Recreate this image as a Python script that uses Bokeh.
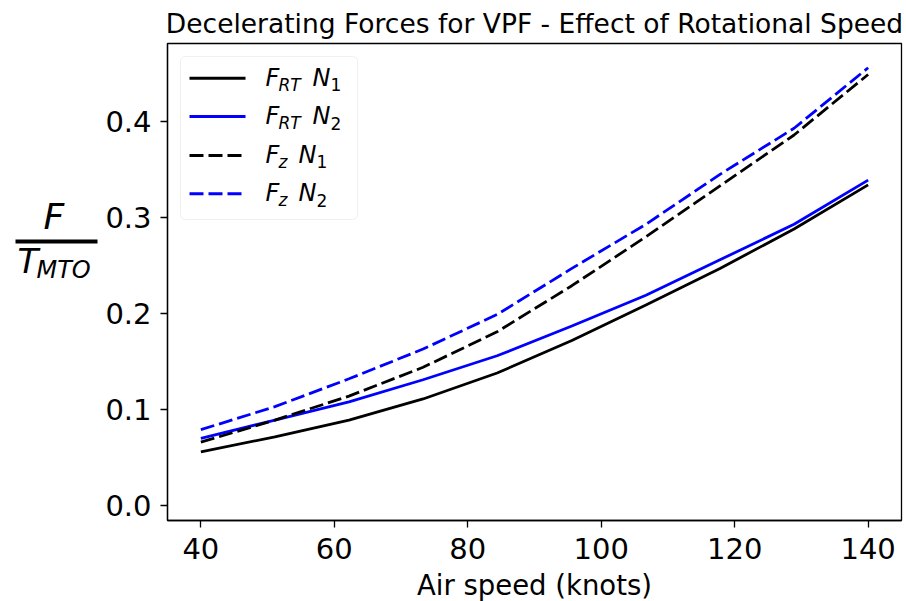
from bokeh.plotting import figure
from bokeh.layouts import row
from bokeh.models import Range1d, FixedTicker, Label, Arrow, BoxAnnotation, PrintfTickFormatter
from bokeh.embed import file_html
from bokeh.resources import INLINE

# ---- data ----
airspeed = [40, 51.1, 62.2, 73.3, 84.4, 95.6, 106.7, 117.8, 128.9, 140]
frt_n1 = [0.056, 0.0715, 0.089, 0.111, 0.138, 0.172, 0.209, 0.247, 0.288, 0.334]
frt_n2 = [0.070, 0.089, 0.108, 0.131, 0.156, 0.187, 0.219, 0.256, 0.293, 0.339]
fz_n1 = [0.066, 0.089, 0.114, 0.144, 0.181, 0.229, 0.280, 0.333, 0.386, 0.449]
fz_n2 = [0.079, 0.103, 0.132, 0.163, 0.199, 0.247, 0.293, 0.345, 0.393, 0.456]
x_ticks = [40, 60, 80, 100, 120, 140]
y_ticks = [0.0, 0.1, 0.2, 0.3, 0.4]

title_text = "Decelerating Forces for VPF - Effect of Rotational Speed"
x_label = "Air speed (knots)"

# ---- layout ----
X0, X1 = 35, 145
Y0, Y1 = -0.0156, 0.4813
FONT = "DejaVu Sans"
LBL_W = 100           # width of the side strip holding the y label
H = 600
FL, FT = 167, 42      # frame left/top on the page
FW, FH = 734, 477
MR = 3
MT = FT
MB = H - FT - FH

def px(page_x):
    return X0 + (page_x - FL) / FW * (X1 - X0)

def py(page_y):
    return Y1 - (page_y - FT) / FH * (Y1 - Y0)

p = figure(frame_width=FW, frame_height=FH,
           min_border_left=FL - LBL_W, min_border_top=MT, min_border_right=MR, min_border_bottom=MB,
           x_range=Range1d(X0, X1), y_range=Range1d(Y0, Y1),
           output_backend="svg", toolbar_location=None, title=title_text)

p.title.text_font = FONT
p.title.text_font_size = "26.5px"
p.title.text_font_style = "normal"
p.title.align = "center"
p.title.text_color = "black"

p.grid.visible = False
p.outline_line_color = "black"
p.outline_line_width = 1.3
p.background_fill_color = "white"
p.border_fill_color = "white"

for ax in (p.xaxis, p.yaxis):
    ax.axis_line_color = "black"
    ax.axis_line_width = 1.3
    ax.major_tick_line_color = "black"
    ax.major_tick_line_width = 1.3
    ax.major_tick_out = 7
    ax.major_tick_in = 0
    ax.minor_tick_line_color = None
    ax.major_label_text_font = FONT
    ax.major_label_text_font_size = "29px"
    ax.major_label_text_color = "black"

p.xaxis.ticker = FixedTicker(ticks=x_ticks)
p.yaxis.ticker = FixedTicker(ticks=y_ticks)
p.yaxis.formatter = PrintfTickFormatter(format="%.1f")
p.xaxis.major_label_standoff = 10
p.yaxis.major_label_standoff = 9
p.xaxis.axis_label = x_label
p.xaxis.axis_label_text_font = FONT
p.xaxis.axis_label_text_font_size = "27.5px"
p.xaxis.axis_label_text_font_style = "normal"
p.xaxis.axis_label_text_color = "black"
p.xaxis.axis_label_standoff = 7

# ---- series ----
LW = 2.8
DASH = "14 5"
p.line(airspeed, frt_n1, line_color="black", line_width=LW)
p.line(airspeed, frt_n2, line_color="#0000ff", line_width=LW)
p.line(airspeed, fz_n1, line_color="black", line_width=LW, line_dash=DASH)
p.line(airspeed, fz_n2, line_color="#0000ff", line_width=LW, line_dash=DASH)

# ---- legend (manual, for subscripts) ----
p.add_layout(BoxAnnotation(left=px(180), right=px(357), top=py(55), bottom=py(218),
                           fill_color="white", fill_alpha=0.8, line_color="#cccccc",
                           line_width=1, border_radius=5, level="overlay"))

legend_rows = [
    ("F", "RT", "N", "1", "black", None),
    ("F", "RT", "N", "2", "#0000ff", None),
    ("F", "z", "N", "1", "black", DASH),
    ("F", "z", "N", "2", "#0000ff", DASH),
]
row_line_y = [76.7, 115, 154, 192.3]
row_base_y = [86, 124.5, 163, 201.5]
for (a, sub_a, b, sub_b, col, dash), ly, by in zip(legend_rows, row_line_y, row_base_y):
    kw = dict(line_color=col, line_width=3, level="overlay")
    if dash:
        kw["line_dash"] = dash
    p.add_layout(Arrow(end=None, x_start=px(189), y_start=py(ly), x_end=px(245), y_end=py(ly), **kw))
    xs = 265
    p.add_layout(Label(x=px(xs), y=py(by - 10), text=a, text_font=FONT, text_font_style="italic",
                       text_font_size="24px", text_baseline="alphabetic", text_color="black",
                       level="overlay"))
    p.add_layout(Label(x=px(xs + 13), y=py(by + 4 - 7), text=sub_a, text_font=FONT,
                       text_font_style="italic", text_font_size="17px",
                       text_baseline="alphabetic", text_color="black", level="overlay"))
    nx = 312 if sub_a == "RT" else 298
    p.add_layout(Label(x=px(nx), y=py(by - 10), text=b, text_font=FONT, text_font_style="italic",
                       text_font_size="24px", text_baseline="alphabetic", text_color="black",
                       level="overlay"))
    p.add_layout(Label(x=px(nx + 18), y=py(by + 4 - 7), text=sub_b, text_font=FONT,
                       text_font_size="17px", text_baseline="alphabetic", text_color="black",
                       level="overlay"))

# ---- y label strip: F / T_MTO (page pixel coordinates; frame aligned with main plot) ----
q = figure(frame_width=LBL_W, frame_height=FH, min_border_left=0, min_border_right=0,
           min_border_top=MT, min_border_bottom=MB,
           x_range=Range1d(0, LBL_W), y_range=Range1d(FT + FH, FT),
           x_axis_location=None, y_axis_location=None,
           output_backend="svg", toolbar_location=None)
q.grid.visible = False
q.outline_line_color = None
q.background_fill_color = "white"
q.border_fill_color = "white"
q.add_layout(Label(x=43, y=228 - 13, text="F", text_font=FONT, text_font_style="italic",
                   text_font_size="36px", text_baseline="alphabetic", text_color="black"))
q.add_layout(Arrow(end=None, x_start=15, y_start=240, x_end=97, y_end=240,
                   line_color="black", line_width=4))
q.add_layout(Label(x=17, y=273 - 14, text="T", text_font=FONT, text_font_style="italic",
                   text_font_size="34px", text_baseline="alphabetic", text_color="black"))
q.add_layout(Label(x=36, y=278 - 10, text="MTO", text_font=FONT, text_font_style="italic",
                   text_font_size="24px", text_baseline="alphabetic", text_color="black"))

layout = row(q, p)
open("out.html", "w").write(file_html(layout, INLINE))
